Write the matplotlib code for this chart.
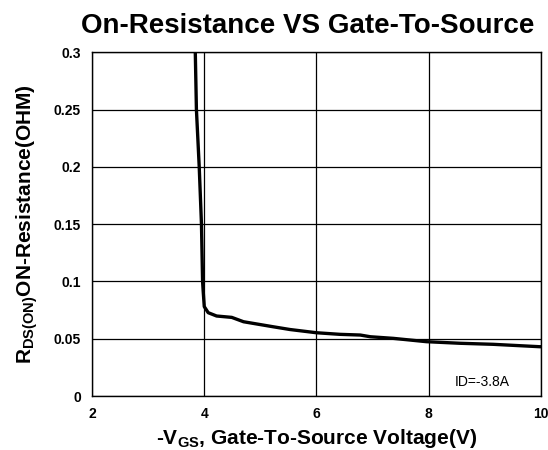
import matplotlib.pyplot as plt

plt.rcParams['font.family'] = ['Liberation Sans', 'DejaVu Sans']
plt.rcParams['mathtext.fontset'] = 'custom'
plt.rcParams['mathtext.rm'] = 'Liberation Sans:bold'
plt.rcParams['mathtext.bf'] = 'Liberation Sans:bold'

# -VGS (V) vs RDS(ON) (ohm)
vgs = [3.84, 3.86, 3.91, 3.95, 3.97, 3.98, 4.00, 4.07, 4.22, 4.49, 4.70, 5.23, 5.53,
       6.00, 6.42, 6.78, 6.96, 7.37, 7.96, 8.56, 9.15, 9.98, 10.0]
rds = [0.300, 0.250, 0.200, 0.150, 0.100, 0.092, 0.078, 0.0727, 0.0698, 0.0686, 0.0648,
       0.0604, 0.058, 0.0552, 0.0538, 0.0532, 0.0517, 0.0503, 0.0474, 0.046, 0.0451,
       0.043, 0.043]

x_ticks = [2, 4, 6, 8, 10]
y_ticks = [0, 0.05, 0.1, 0.15, 0.2, 0.25, 0.3]
y_tick_labels = ['0', '0.05', '0.1', '0.15', '0.2', '0.25', '0.3']

fig = plt.figure(figsize=(5.48, 4.5), dpi=100)
ax = fig.add_axes([0.168, 0.12, 0.819, 0.764])

ax.plot(vgs, rds, color='black', linewidth=2.4, solid_capstyle='round')

ax.set_xlim(2, 10)
ax.set_ylim(0, 0.3)
ax.set_xticks(x_ticks)
ax.set_yticks(y_ticks)
ax.set_yticklabels(y_tick_labels)
ax.tick_params(length=0, labelsize=10, pad=8)
for lab in ax.get_xticklabels() + ax.get_yticklabels():
    lab.set_fontweight('bold')
ax.grid(True, color='black', linewidth=0.9)
for s in ax.spines.values():
    s.set_linewidth(1.0)

ax.text(8.47, 0.012, 'ID=-3.8A', fontsize=10, va='center', ha='left')

ax.set_title('On-Resistance VS Gate-To-Source', fontsize=20, fontweight='bold',
             pad=14, x=0.48)
ax.set_xlabel(r'-V$_{\mathrm{GS}}$, Gate-To-Source Voltage(V)', fontsize=15,
              fontweight='bold', labelpad=4)
ax.set_ylabel(r'R$_{\mathrm{DS(ON)}}$ON-Resistance(OHM)', fontsize=15,
              fontweight='bold', labelpad=10)

fig.savefig('out.png', dpi=100)
